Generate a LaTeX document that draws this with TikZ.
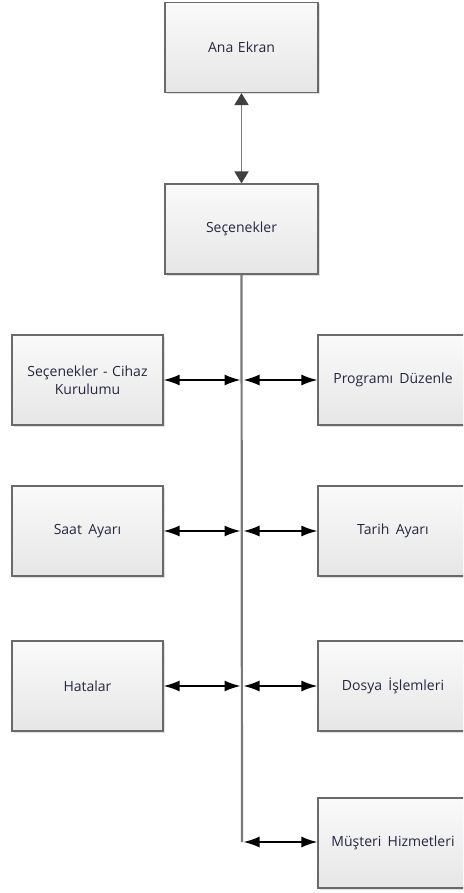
\documentclass[tikz,border=0pt]{standalone}
\usepackage{fontspec}
\setmainfont{Open Sans}
\usetikzlibrary{arrows.meta,shadows}
\definecolor{boxline}{HTML}{6A6A6A}
\definecolor{boxtop}{HTML}{FAFAFA}
\definecolor{boxbot}{HTML}{E6E6E6}
\definecolor{txt}{HTML}{262640}
\definecolor{trunk}{HTML}{7A7A7A}
\definecolor{darkhead}{HTML}{404040}
\tikzset{
  box/.style={draw=boxline, line width=1.2pt, top color=boxtop, bottom color=boxbot,
    minimum height=90pt, inner sep=2pt, align=center, text=txt,
    font=\fontsize{14}{18}\selectfont,
    drop shadow={shadow xshift=1.5pt, shadow yshift=-1.5pt, opacity=0.25}},
  lbox/.style={box, minimum width=151pt, text width=145pt},
  tbox/.style={box, minimum width=153pt, text width=147pt},
  rbox/.style={box, minimum width=150pt, text width=146pt},
  link/.style={line width=1.6pt, black, {Latex[length=16pt,width=11pt]}-{Latex[length=16pt,width=11pt]}},
}
\newcommand{\dsp}{\hspace{0.45em}}
\begin{document}
\begin{tikzpicture}[x=1pt,y=-1pt]
\useasboundingbox (0,0) rectangle (463,893);
\clip (0,0) rectangle (463,893);
% top boxes
\node[tbox] (ana) at (241.5,47.5) {Ana Ekran};
\node[tbox] (sec) at (241.5,229) {Seçenekler};
% left boxes
\node[lbox] (cihaz) at (87.5,380) {Seçenekler - Cihaz\\Kurulumu};
\node[lbox] (saat) at (87.5,531) {Saat\dsp Ayarı};
\node[lbox] (hata) at (87.5,686) {Hatalar};
% right boxes
\node[rbox] (prog) at (393,380) {Programı\dsp Düzenle};
\node[rbox] (tarih) at (393,531) {Tarih\dsp Ayarı};
\node[rbox] (dosya) at (393,686) {Dosya\dsp İşlemleri};
\node[rbox] (must) at (393,843) {Müşteri\dsp Hizmetleri};
% junction coordinates on trunk
\coordinate (j1) at (242,380);
\coordinate (j2) at (242,531);
\coordinate (j3) at (242,686);
\coordinate (j4) at (242,842);
% vertical double arrow
\draw[line width=1.8pt, trunk, {Triangle[length=12pt,width=14pt,fill=darkhead,color=darkhead]}-{Triangle[length=12pt,width=14pt,fill=darkhead,color=darkhead]}] (ana.south) -- (sec.north);
% trunk
\draw[line width=2.2pt, trunk] (sec.south) -- (j4);
% horizontal links
\draw[link] (cihaz.east) -- ([xshift=-1.5pt]j1);
\draw[link] ([xshift=1.5pt]j1) -- (prog.west);
\draw[link] (saat.east) -- ([xshift=-1.5pt]j2);
\draw[link] ([xshift=1.5pt]j2) -- (tarih.west);
\draw[link] (hata.east) -- ([xshift=-1.5pt]j3);
\draw[link] ([xshift=1.5pt]j3) -- (dosya.west);
\draw[link] ([xshift=1.5pt]j4) -- (must.west |- j4);
\end{tikzpicture}
\end{document}
